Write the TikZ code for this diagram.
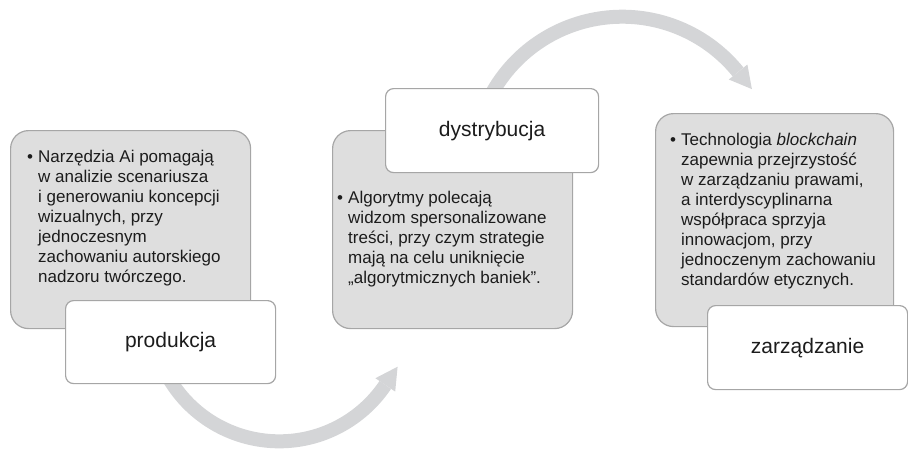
\documentclass[tikz,border=0pt]{standalone}
\usepackage{fontspec}
\setmainfont{Liberation Sans}
\definecolor{boxgray}{RGB}{222,222,222}
\definecolor{boxline}{RGB}{166,166,166}
\definecolor{arrowgray}{RGB}{212,213,215}
\definecolor{txt}{RGB}{28,28,28}
\newcommand{\bulitem}{\makebox[11pt][l]{•}}
\tikzset{
  graybox/.style={draw=boxline, line width=1.2pt, fill=boxgray, rounded corners=18pt, inner sep=0pt, anchor=north west},
  titlebox/.style={draw=boxline, line width=1.2pt, fill=white, rounded corners=8pt, inner sep=0pt, anchor=north west,
                   font=\fontsize{21}{25}\selectfont, text=txt},
  bodytext/.style={anchor=north west, inner sep=0pt, font=\fontsize{17}{20}\selectfont, text=txt},
  band/.style={draw=arrowgray, line width=14pt},
  arrowhead/.style={fill=arrowgray},
}
\begin{document}
\begin{tikzpicture}[x=1pt,y=-1pt]
\useasboundingbox (0,0) rectangle (908,448);

% curved arrows (behind the boxes)
\draw[band] (279.2,313.3) ++(150:128) arc[start angle=150, end angle=34, radius=128];
\fill[arrowhead] (375.4,378.2) -- (397.6,366.7) -- (395.2,391.6) -- cycle;

\draw[band] (622.2,165.8) ++(-152:149.1) arc[start angle=-152, end angle=-39, radius=149.1];
\fill[arrowhead] (747.4,64.5) -- (751.9,89.1) -- (728.8,79.5) -- cycle;

% grey content boxes
\node[graybox, minimum width=240pt, minimum height=198pt] (g1) at (10,130) {};
\node[graybox, minimum width=240pt, minimum height=198pt] (g2) at (332,130) {};
\node[graybox, minimum width=238pt, minimum height=213pt] (g3) at (655,113) {};

% body texts
\node[bodytext] (t1) at (27,148) {\begin{tabular}{@{}l@{}l@{}}
\bulitem & Narzędzia Ai pomagają\\
 & w analizie scenariusza\\
 & i generowaniu koncepcji\\
 & wizualnych, przy\\
 & jednoczesnym\\
 & zachowaniu autorskiego\\
 & nadzoru twórczego.
\end{tabular}};

\node[bodytext] (t2) at (337,189) {\begin{tabular}{@{}l@{}l@{}}
\bulitem & Algorytmy polecają\\
 & widzom spersonalizowane\\
 & treści, przy czym strategie\\
 & mają na celu uniknięcie\\
 & „algorytmicznych baniek”.
\end{tabular}};

\node[bodytext] (t3) at (670,131) {\begin{tabular}{@{}l@{}l@{}}
\bulitem & Technologia \textit{blockchain}\\
 & zapewnia przejrzystość\\
 & w zarządzaniu prawami,\\
 & a interdyscyplinarna\\
 & współpraca sprzyja\\
 & innowacjom, przy\\
 & jednoczenym zachowaniu\\
 & standardów etycznych.
\end{tabular}};

% white title boxes
\node[titlebox, minimum width=210pt, minimum height=83pt] (w1) at (65,300) {produkcja};
\node[titlebox, minimum width=213pt, minimum height=84pt] (w2) at (385,88) {dystrybucja};
\node[titlebox, minimum width=200pt, minimum height=84pt] (w3) at (707,305) {zarządzanie};
\end{tikzpicture}
\end{document}
